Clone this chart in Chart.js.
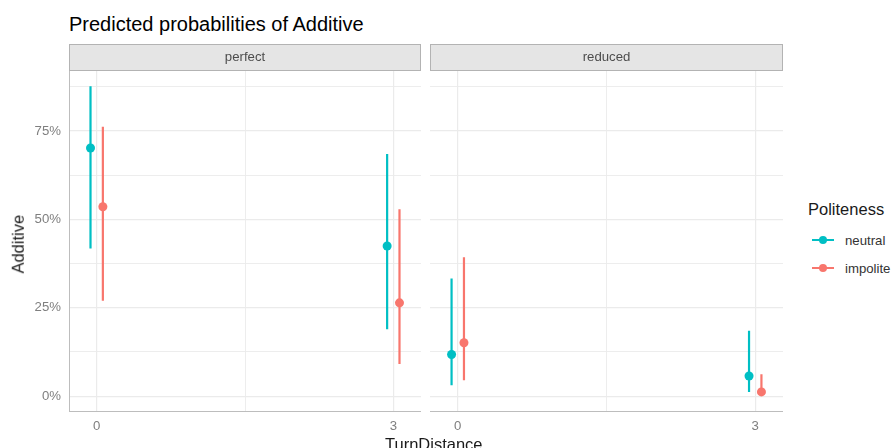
<!DOCTYPE html>
<html>
<head>
<meta charset="utf-8">
<script src="https://cdn.jsdelivr.net/npm/chart.js@4"></script>
<style>
    body { margin: 0; background: #fff; }
    #wrap { position: relative; width: 893px; height: 448px; overflow: hidden; font-family: "Liberation Sans", Arial, sans-serif; }
    .txt { position: absolute; white-space: nowrap; }
    canvas { position: absolute; }
    .key { position: absolute; }
    .key .ln { position: absolute; left: 0; top: -1px; width: 22px; height: 2px; }
    .key .dot { position: absolute; left: 7px; top: -4px; width: 8px; height: 8px; border-radius: 50%; }
</style>
</head>
<body>
<div id="wrap">
    <div class="txt" style="left:69px; top:14px; font-size:20px; line-height:20px; color:#000;">Predicted probabilities of Additive</div>
    <canvas id="leftPanel" style="left:0; top:44px;"></canvas>
    <canvas id="rightPanel" style="left:430px; top:44px;"></canvas>
    <div class="txt" style="left:385px; width:80px; text-align:center; top:435.5px; font-size:16.5px; line-height:16.5px; color:#1a1a1a;">TurnDistance</div>
    <div class="txt" style="left:-22px; width:80px; text-align:center; top:236px; font-size:16.5px; line-height:16.5px; color:#1a1a1a; transform:rotate(-90deg);">Additive</div>

    <div class="txt" style="left:808px; top:201px; font-size:16.5px; line-height:16.5px; color:#1a1a1a;">Politeness</div>
    <div class="key" style="left:812px; top:240px;"><div class="ln" style="background:#00BFC4"></div><div class="dot" style="background:#00BFC4"></div></div>
    <div class="txt" style="left:845px; top:234px; font-size:13.2px; line-height:13.2px; color:#333;">neutral</div>
    <div class="key" style="left:812px; top:268px;"><div class="ln" style="background:#F8766D"></div><div class="dot" style="background:#F8766D"></div></div>
    <div class="txt" style="left:845px; top:262px; font-size:13.2px; line-height:13.2px; color:#333;">impolite</div>
</div>
<script>
// Data
const turnDistance = [0, 3];
const yTicks = [0, 0.125, 0.25, 0.375, 0.5, 0.625, 0.75, 0.875];

const perfectNeutral   = [0.702, 0.425];
const perfectNeutralLo = [0.418, 0.189];
const perfectNeutralHi = [0.877, 0.685];

const perfectImpolite   = [0.536, 0.264];
const perfectImpoliteLo = [0.270, 0.091];
const perfectImpoliteHi = [0.762, 0.529];

const reducedNeutral   = [0.118, 0.057];
const reducedNeutralLo = [0.031, 0.012];
const reducedNeutralHi = [0.333, 0.185];

const reducedImpolite   = [0.151, 0.012];
const reducedImpoliteLo = [0.045, 0.003];
const reducedImpoliteHi = [0.393, 0.062];

const NEUTRAL = '#00BFC4';
const IMPOLITE = '#F8766D';
const DODGE = 0.0625;
const FONT = "'Liberation Sans', Arial, sans-serif";

function points(est, shift) {
    return turnDistance.map((x, i) => ({ x: x + shift, y: est[i] }));
}

function ciSegments(lo, hi, shift) {
    const out = [];
    turnDistance.forEach((x, i) => {
        if (i > 0) out.push({ x: x + shift, y: null });
        out.push({ x: x + shift, y: lo[i] });
        out.push({ x: x + shift, y: hi[i] });
    });
    return out;
}

// Facet strip above the plot area
const stripPlugin = {
    id: 'strip',
    afterDraw(chart, args, opts) {
        const { ctx, chartArea } = chart;
        const h = 27;
        ctx.save();
        ctx.fillStyle = '#e5e5e5';
        ctx.fillRect(chartArea.left, chartArea.top - h, chartArea.right - chartArea.left, h);
        ctx.strokeStyle = '#b3b3b3';
        ctx.lineWidth = 1;
        ctx.strokeRect(chartArea.left + 0.5, chartArea.top - h + 0.5, chartArea.right - chartArea.left - 1, h - 1);
        ctx.fillStyle = '#4d4d4d';
        ctx.font = '13.2px ' + FONT;
        ctx.textAlign = 'center';
        ctx.textBaseline = 'middle';
        ctx.fillText(opts.label, (chartArea.left + chartArea.right) / 2, chartArea.top - h / 2);
        ctx.restore();
    }
};

function buildPanel(id, width, label, nEst, nLo, nHi, iEst, iLo, iHi, showY) {
    const canvas = document.getElementById(id);
    canvas.width = width;
    canvas.height = 404;
    canvas.style.width = width + 'px';
    canvas.style.height = '404px';

    return new Chart(canvas.getContext('2d'), {
        type: 'line',
        data: {
            datasets: [{
                label: 'neutral',
                data: points(nEst, -DODGE),
                showLine: false,
                pointRadius: 4.5,
                pointBackgroundColor: NEUTRAL,
                pointBorderWidth: 0,
                order: 0
            }, {
                label: 'impolite',
                data: points(iEst, DODGE),
                showLine: false,
                pointRadius: 4.5,
                pointBackgroundColor: IMPOLITE,
                pointBorderWidth: 0,
                order: 0
            }, {
                label: 'neutral CI',
                data: ciSegments(nLo, nHi, -DODGE),
                borderColor: NEUTRAL,
                borderWidth: 2.2,
                pointRadius: 0,
                spanGaps: false,
                order: 1
            }, {
                label: 'impolite CI',
                data: ciSegments(iLo, iHi, DODGE),
                borderColor: IMPOLITE,
                borderWidth: 2.2,
                pointRadius: 0,
                spanGaps: false,
                order: 1
            }]
        },
        options: {
            responsive: false,
            animation: false,
            events: [],
            layout: { autoPadding: false, padding: { top: 27, left: 0, right: 0, bottom: 0 } },
            plugins: {
                legend: { display: false },
                tooltip: { enabled: false },
                strip: { label: label }
            },
            scales: {
                x: {
                    type: 'linear',
                    min: -0.28,
                    max: 3.28,
                    afterBuildTicks: scale => { scale.ticks = [0, 1.5, 3].map(v => ({ value: v })); },
                    afterFit: scale => {
                        scale.height = 37;
                        scale.paddingLeft = 0;
                        scale.paddingRight = 0;
                    },
                    ticks: {
                        autoSkip: false,
                        maxRotation: 0,
                        padding: 7,
                        color: '#7f7f7f',
                        font: { family: FONT, size: 13.2 },
                        callback: v => (v === 1.5 ? '' : String(v))
                    },
                    grid: {
                        drawTicks: false,
                        color: '#ebebeb',
                        lineWidth: ctx => (ctx.tick && ctx.tick.value === 1.5 ? 0.9 : 1.2)
                    },
                    border: { display: true, color: '#bdbdbd', width: 1 }
                },
                y: {
                    type: 'linear',
                    min: -0.042,
                    max: 0.92,
                    afterBuildTicks: scale => { scale.ticks = yTicks.map(v => ({ value: v })); },
                    afterFit: scale => {
                        scale.width = showY ? 69 : 0;
                        scale.paddingTop = 0;
                        scale.paddingBottom = 0;
                    },
                    ticks: {
                        display: showY,
                        autoSkip: false,
                        padding: 8,
                        color: '#7f7f7f',
                        font: { family: FONT, size: 13.2 },
                        callback: v => (Math.abs((v * 100) % 25) < 1e-6 ? Math.round(v * 100) + '%' : '')
                    },
                    grid: {
                        drawTicks: false,
                        color: '#ebebeb',
                        lineWidth: ctx => (ctx.tick && Math.abs((ctx.tick.value * 100) % 25) > 1e-6 ? 0.9 : 1.2)
                    },
                    border: { display: showY, color: '#bdbdbd', width: 1 }
                }
            }
        },
        plugins: [stripPlugin]
    });
}

const leftChart = buildPanel('leftPanel', 421, 'perfect',
    perfectNeutral, perfectNeutralLo, perfectNeutralHi,
    perfectImpolite, perfectImpoliteLo, perfectImpoliteHi, true);

const rightChart = buildPanel('rightPanel', 353, 'reduced',
    reducedNeutral, reducedNeutralLo, reducedNeutralHi,
    reducedImpolite, reducedImpoliteLo, reducedImpoliteHi, false);
</script>
</body>
</html>
